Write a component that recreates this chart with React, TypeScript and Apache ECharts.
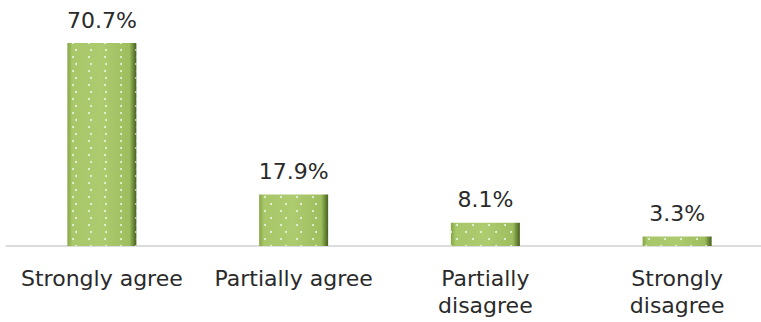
import React, { useEffect, useRef } from "react";
import * as echarts from "echarts";

const categories = ["Strongly agree", "Partially agree", "Partially\ndisagree", "Strongly\ndisagree"];
const values = [70.7, 17.9, 8.1, 3.3];

export default function App() {
  const ref = useRef<HTMLDivElement>(null);
  useEffect(() => {
    document.body.style.margin = "0";
    document.body.style.overflow = "hidden";
    const chart = echarts.init(ref.current!, null, { renderer: "svg" });
    const font = "'DejaVu Sans', sans-serif";
    chart.setOption({
      animation: false,
      backgroundColor: "#ffffff",
      grid: { left: 6, right: 0, top: 16.3, bottom: 76, containLabel: false },
      xAxis: {
        type: "category",
        data: categories,
        axisLine: { show: true, lineStyle: { color: "#d0d0d0", width: 1.5 } },
        axisTick: { show: false },
        axisLabel: {
          color: "#2a2a2a",
          fontFamily: font,
          fontSize: 22,
          lineHeight: 27,
          margin: 19,
          interval: 0,
        },
      },
      yAxis: {
        type: "value",
        min: 0,
        max: 80,
        show: false,
        splitLine: { show: false },
      },
      series: [
        {
          type: "bar",
          data: values,
          barWidth: 69,
          itemStyle: {
            color: new echarts.graphic.LinearGradient(0, 0, 1, 0, [
              { offset: 0, color: "#86a648" },
              { offset: 0.07, color: "#a8c769" },
              { offset: 0.5, color: "#adcb6f" },
              { offset: 0.9, color: "#9dbd5e" },
              { offset: 1, color: "#45601c" },
            ]),
            decal: {
              symbol: "circle",
              symbolSize: 1,
              color: "rgba(255,255,255,0.8)",
              backgroundColor: "transparent",
              dashArrayX: [
                [2, 13],
                [0, 7.5, 2, 5.5],
              ],
              dashArrayY: [2, 5],
              rotation: 0,
            },
          },
          label: {
            show: true,
            position: "top",
            distance: 12,
            color: "#2a2a2a",
            fontFamily: font,
            fontSize: 22,
            formatter: (p: any) => p.value.toFixed(1) + "%",
          },
        },
      ],
    });
    return () => chart.dispose();
  }, []);
  return <div ref={ref} style={{ width: 773, height: 322 }} />;
}
